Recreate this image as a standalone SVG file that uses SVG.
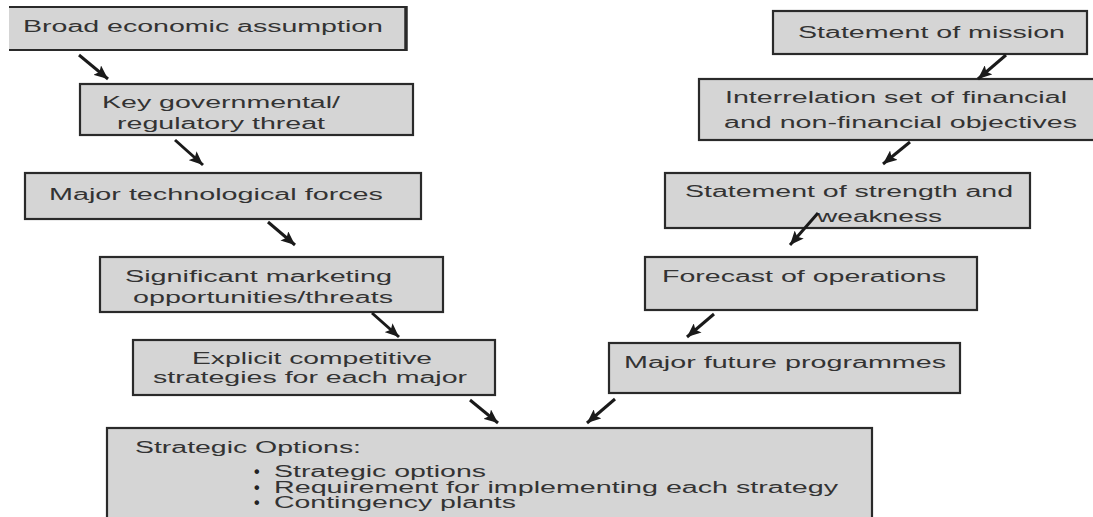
<svg xmlns="http://www.w3.org/2000/svg" width="1093" height="517" viewBox="0 0 1093 517">
<style>
.box{fill:#d5d5d5;stroke:#2a2a2a;stroke-width:2.2}
.t{font-family:"Liberation Sans",Arial,sans-serif;font-size:16px;fill:#333;}
.b{font-family:"Liberation Sans",Arial,sans-serif;font-size:16px;font-weight:bold;fill:#222;}
.c{stroke:#1a1a1a;stroke-width:3;fill:none;marker-end:url(#ah)}
</style>
<defs>
<marker id="ah" viewBox="0 0 14 12" refX="14" refY="6" markerWidth="14" markerHeight="12" markerUnits="userSpaceOnUse" orient="auto">
<path d="M0,0 L14,6 L0,12 L3,6 z" fill="#1a1a1a"/>
</marker>
</defs>
<rect width="1093" height="517" fill="#fff"/>
<g id="n1">
<rect x="9" y="7" width="398" height="43" fill="#d5d5d5"/>
<path d="M9,7 H406 V50 H9" fill="none" stroke="#2a2a2a" stroke-width="2"/>
<path d="M406,6 V51" stroke="#2a2a2a" stroke-width="3.5"/>
<text class="t" x="23" y="32" textLength="360" lengthAdjust="spacingAndGlyphs">Broad economic assumption</text>
</g>
<g id="n2">
<rect class="box" x="80" y="84" width="333" height="51"/>
<text class="t" x="102" y="108" textLength="238" lengthAdjust="spacingAndGlyphs">Key governmental/</text>
<text class="t" x="117" y="129" textLength="208" lengthAdjust="spacingAndGlyphs">regulatory threat</text>
</g>
<g id="n3">
<rect class="box" x="25" y="173" width="396" height="46"/>
<text class="t" x="49" y="200" textLength="334" lengthAdjust="spacingAndGlyphs">Major technological forces</text>
</g>
<g id="n4">
<rect class="box" x="100" y="257" width="343" height="55"/>
<text class="t" x="125" y="282" textLength="267" lengthAdjust="spacingAndGlyphs">Significant marketing</text>
<text class="t" x="133" y="303" textLength="260" lengthAdjust="spacingAndGlyphs">opportunities/threats</text>
</g>
<g id="n5">
<rect class="box" x="133" y="340" width="362" height="55"/>
<text class="t" x="192" y="364" textLength="240" lengthAdjust="spacingAndGlyphs">Explicit competitive</text>
<text class="t" x="153" y="383" textLength="314" lengthAdjust="spacingAndGlyphs">strategies for each major</text>
</g>
<g id="n6">
<rect class="box" x="107" y="428" width="765" height="100"/>
<text class="t" x="135" y="453" textLength="226" lengthAdjust="spacingAndGlyphs">Strategic Options:</text>
<text class="b" x="254" y="477">•</text>
<text class="t" x="274" y="477" textLength="212" lengthAdjust="spacingAndGlyphs">Strategic options</text>
<text class="b" x="254" y="493">•</text>
<text class="t" x="274" y="493" textLength="564" lengthAdjust="spacingAndGlyphs">Requirement for implementing each strategy</text>
<text class="b" x="254" y="508">•</text>
<text class="t" x="274" y="508" textLength="242" lengthAdjust="spacingAndGlyphs">Contingency plants</text>
</g>
<g id="r1">
<rect class="box" x="773" y="11" width="314" height="43"/>
<text class="t" x="798" y="38" textLength="267" lengthAdjust="spacingAndGlyphs">Statement of mission</text>
</g>
<g id="r2">
<rect class="box" x="699" y="79" width="400" height="61"/>
<text class="t" x="725" y="103" textLength="342" lengthAdjust="spacingAndGlyphs">Interrelation set of financial</text>
<text class="t" x="724" y="128" textLength="353" lengthAdjust="spacingAndGlyphs">and non-financial objectives</text>
</g>
<g id="r3">
<rect class="box" x="665" y="173" width="365" height="55"/>
<text class="t" x="685" y="197" textLength="328" lengthAdjust="spacingAndGlyphs">Statement of strength and</text>
<text class="t" x="817" y="222" textLength="125" lengthAdjust="spacingAndGlyphs">weakness</text>
</g>
<g id="r4">
<rect class="box" x="645" y="257" width="332" height="53"/>
<text class="t" x="662" y="282" textLength="284" lengthAdjust="spacingAndGlyphs">Forecast of operations</text>
</g>
<g id="r5">
<rect class="box" x="609" y="343" width="351" height="50"/>
<text class="t" x="624" y="368" textLength="322" lengthAdjust="spacingAndGlyphs">Major future programmes</text>
</g>
<g id="connectors">
<path class="c" d="M79,55 L108,79"/>
<path class="c" d="M175,140 L203,165"/>
<path class="c" d="M268,222 L295,245"/>
<path class="c" d="M372,313 L399,337"/>
<path class="c" d="M470,400 L498,423"/>
<path class="c" d="M1006,55 L978,79"/>
<path class="c" d="M910,142 L883,164"/>
<path class="c" d="M818,213 L790,245"/>
<path class="c" d="M714,314 L687,337"/>
<path class="c" d="M615,399 L587,423"/>
</g>
</svg>
